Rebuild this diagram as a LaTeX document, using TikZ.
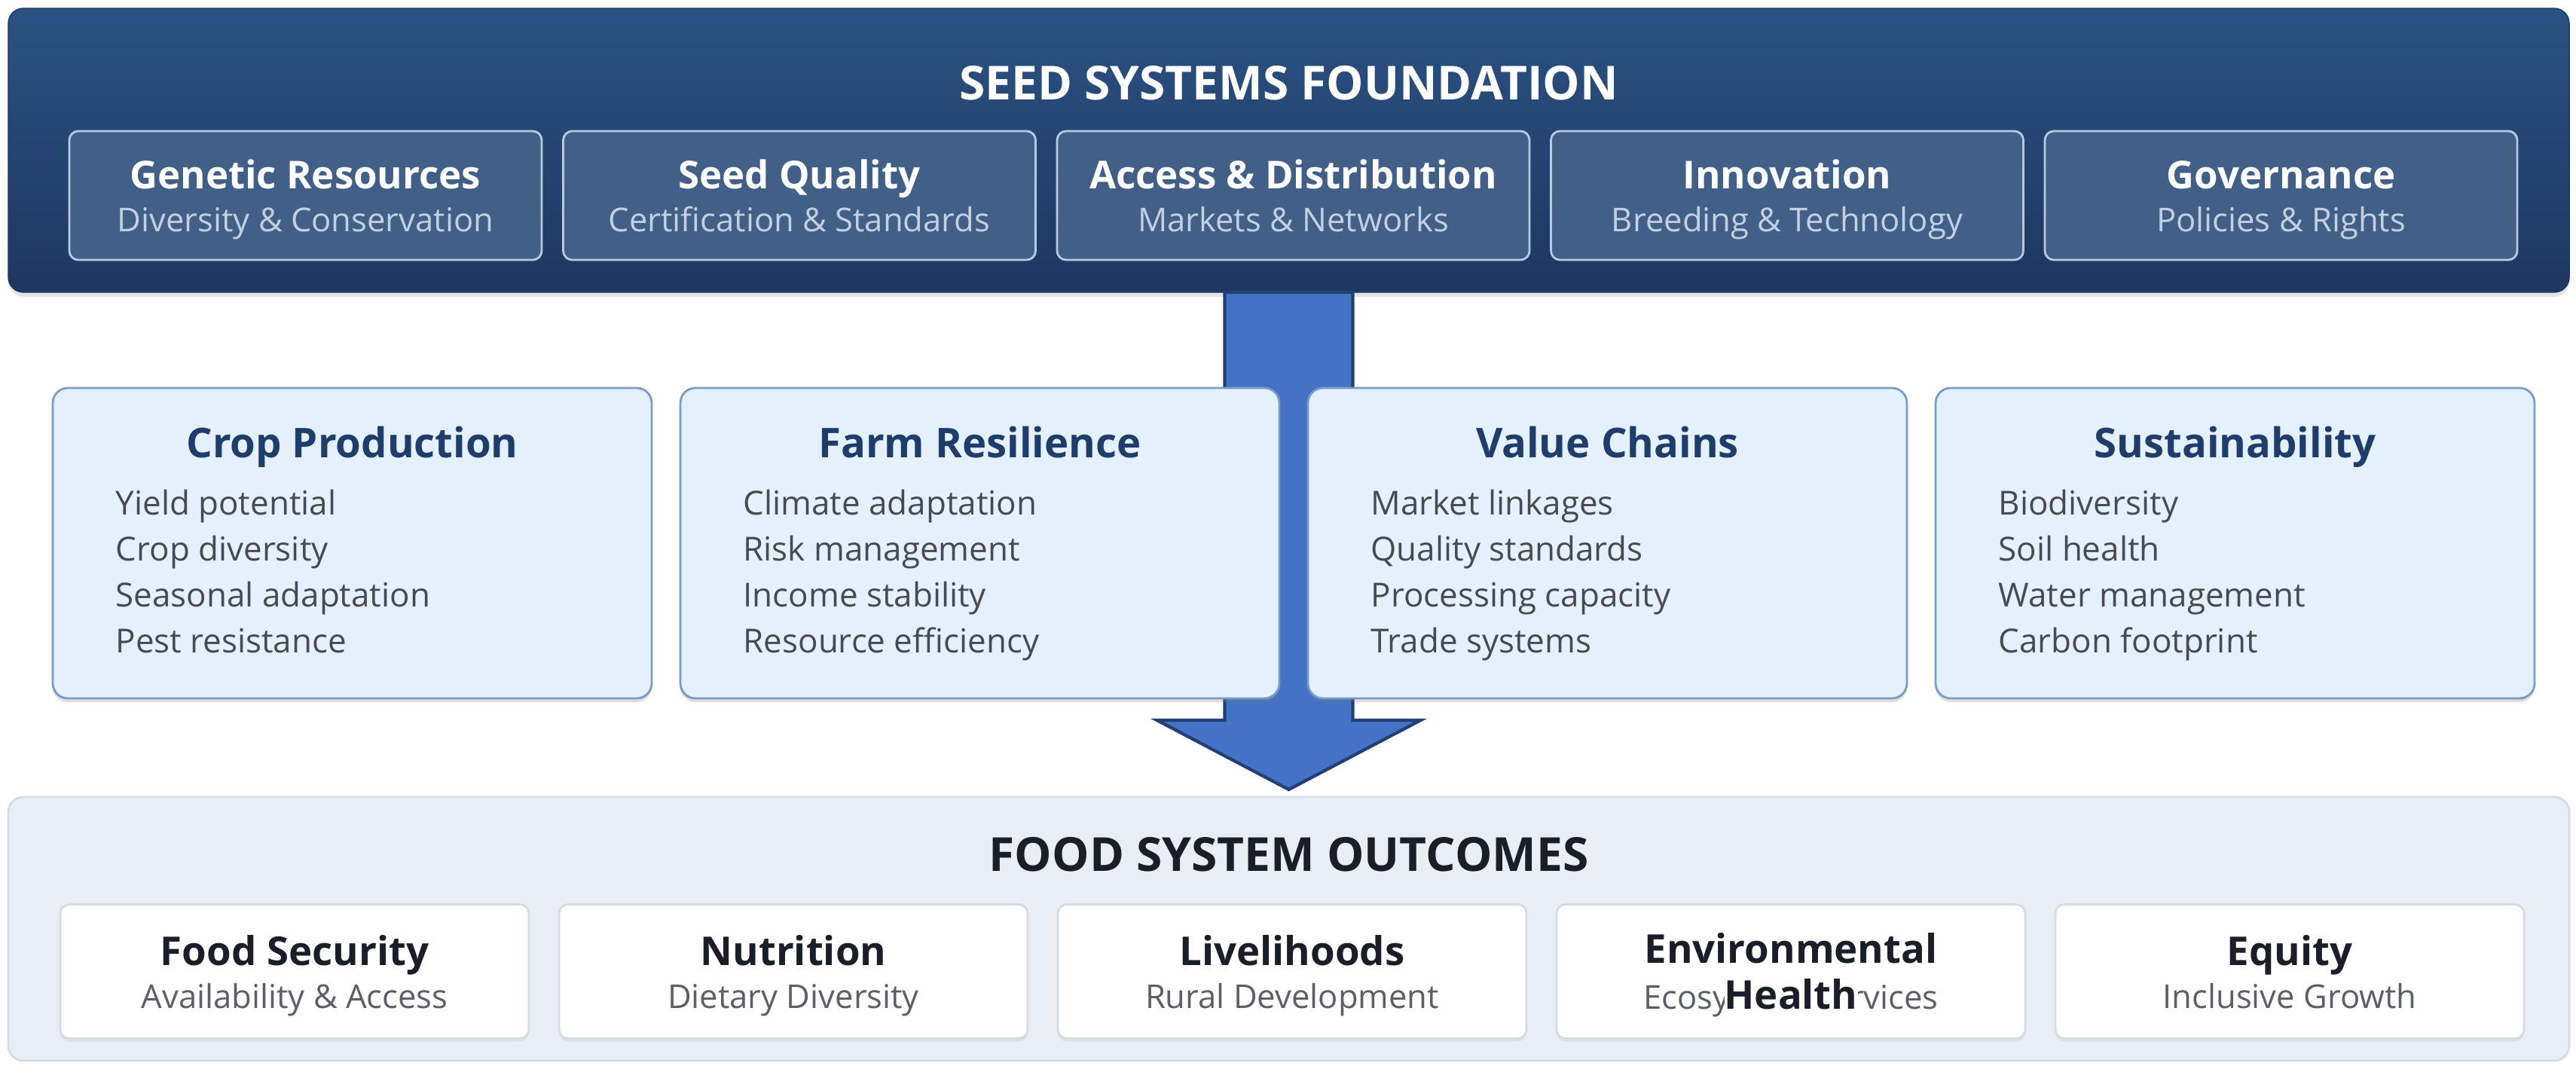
\documentclass[tikz,border=0pt]{standalone}
\usepackage{fontspec}
\setmainfont{Open Sans}
\usepackage{tikz}
\usetikzlibrary{positioning, shadows}
\definecolor{seedtopc}{HTML}{2B5283}
\definecolor{seedbotc}{HTML}{1D3760}
\definecolor{cardfillc}{HTML}{415F87}
\definecolor{cardlinec}{HTML}{B6CAE3}
\definecolor{cardsubc}{HTML}{C2D0E2}
\definecolor{midfillc}{HTML}{E4F0FC}
\definecolor{midlinec}{HTML}{7B9CC6}
\definecolor{midtitlec}{HTML}{1F3D6B}
\definecolor{miditemc}{HTML}{464B53}
\definecolor{arrfillc}{HTML}{4472C4}
\definecolor{arredgec}{HTML}{233F73}
\definecolor{outfillc}{HTML}{E9EEF4}
\definecolor{outedgec}{HTML}{D6DCE4}
\definecolor{outtitlec}{HTML}{1A1E28}
\definecolor{outsubc}{HTML}{5B5F67}
\newcommand{\cardsub}[1]{{\mdseries\fontsize{12.4}{16.2}\selectfont\color{cardsubc}\raisebox{0pt}[\height][0pt]{#1}}}
\newcommand{\outsub}[1]{{\mdseries\fontsize{12.4}{16.2}\selectfont\color{outsubc}\raisebox{0pt}[\height][0pt]{#1}}}
\tikzstyle{panel}=[rectangle, rounded corners=0.2cm, inner sep=0pt, outer sep=0pt]
\tikzstyle{seedpanel}=[panel, top color=seedtopc, bottom color=seedbotc, draw=seedbotc, minimum width=33.99cm, minimum height=3.77cm, drop shadow={shadow xshift=0cm, shadow yshift=-0.06cm, opacity=0.2}]
\tikzstyle{seedhead}=[anchor=base, text=white, font=\fontsize{17.7}{21}\selectfont\bfseries]
\tikzstyle{seedcard}=[panel, rounded corners=0.12cm, fill=cardfillc, draw=cardlinec, thick, minimum width=6.27cm, minimum height=1.71cm, text=white, align=center, font=\fontsize{14.5}{16.2}\selectfont\bfseries]
\tikzstyle{bigarrow}=[fill=arrfillc, draw=arredgec, line width=1.2pt, line join=miter]
\tikzstyle{midcard}=[panel, fill=midfillc, draw=midlinec, thick, minimum width=7.95cm, minimum height=4.12cm, drop shadow={shadow xshift=0cm, shadow yshift=-0.05cm, opacity=0.25}]
\tikzstyle{midhead}=[anchor=base, text=midtitlec, font=\fontsize{15.5}{18}\selectfont\bfseries]
\tikzstyle{miditems}=[anchor=north west, inner sep=0pt, align=left, text=miditemc, font=\fontsize{12.5}{17.4}\selectfont]
\tikzstyle{outpanel}=[panel, fill=outfillc, draw=outedgec, thick, minimum width=33.99cm, minimum height=3.50cm]
\tikzstyle{outhead}=[anchor=base, text=outtitlec, font=\fontsize{17.7}{21}\selectfont\bfseries]
\tikzstyle{outcard}=[panel, rounded corners=0.12cm, fill=white, draw=outedgec, thick, minimum width=6.22cm, minimum height=1.78cm, text=outtitlec, align=center, font=\fontsize{15}{16.2}\selectfont\bfseries, drop shadow={shadow xshift=0cm, shadow yshift=-0.04cm, opacity=0.12}]

\begin{document}
\begin{tikzpicture}
    \useasboundingbox[fill=white] (0,0) rectangle (34.19,-14.14);

    % Foundation:
    \node[seedpanel] (seed) at (17.105,-1.995) {};
    \node[seedhead] (seedtitle) at ([yshift=-1.21cm]seed.north) {SEED SYSTEMS FOUNDATION};
    \node[seedcard] (genetic) at (4.055,-2.595) {\strut Genetic Resources\\\cardsub{Diversity \& Conservation}};
    \node[seedcard] (quality) [right=0.285cm of genetic] {\strut Seed Quality\\\cardsub{Certification \& Standards}};
    \node[seedcard] (access) [right=0.285cm of quality] {\strut Access \& Distribution\\\cardsub{Markets \& Networks}};
    \node[seedcard] (innov) [right=0.285cm of access] {\strut Innovation\\\cardsub{Breeding \& Technology}};
    \node[seedcard] (gov) [right=0.285cm of innov] {\strut Governance\\\cardsub{Policies \& Rights}};

    % Outcomes:
    \node[outpanel] (outcomes) at (17.105,-12.33) {};
    \node[outhead] (outtitle) at ([yshift=-0.98cm]outcomes.north) {FOOD SYSTEM OUTCOMES};

    % Arrow:
    \draw[bigarrow] ([xshift=-0.85cm]seed.south) -- ++(0,-5.68) -- ++(-0.9,0) -- ([yshift=0.1cm]outcomes.north)
        -- ++(1.75,0.92) -- ++(-0.9,0) -- ++(0,5.68) -- cycle;

    % Impact areas:
    \node[midcard] (crop) at (4.675,-7.21) {};
    \node[midcard] (farm) [right=0.38cm of crop] {};
    \node[midcard] (value) [right=0.38cm of farm] {};
    \node[midcard] (sust) [right=0.38cm of value] {};
    \node[midhead] (croptitle) at ([yshift=-0.92cm]crop.north) {Crop Production};
    \node[midhead] (farmtitle) at ([yshift=-0.92cm]farm.north) {Farm Resilience};
    \node[midhead] (valuetitle) at ([yshift=-0.92cm]value.north) {Value Chains};
    \node[midhead] (susttitle) at ([yshift=-0.92cm]sust.north) {Sustainability};
    \node[miditems] (cropitems) at ([xshift=0.83cm, yshift=-1.25cm]crop.north west) {\strut Yield potential\\Crop diversity\\Seasonal adaptation\\Pest resistance};
    \node[miditems] (farmitems) at ([xshift=0.83cm, yshift=-1.25cm]farm.north west) {\strut Climate adaptation\\Risk management\\Income stability\\Resource efficiency};
    \node[miditems] (valueitems) at ([xshift=0.83cm, yshift=-1.25cm]value.north west) {\strut Market linkages\\Quality standards\\Processing capacity\\Trade systems};
    \node[miditems] (sustitems) at ([xshift=0.83cm, yshift=-1.25cm]sust.north west) {\strut Biodiversity\\Soil health\\Water management\\Carbon footprint};

    % Outcome cards:
    \node[outcard] (food) at (3.91,-12.895) {\strut Food Security\\\outsub{Availability \& Access}};
    \node[outcard] (nutri) [right=0.40cm of food] {\strut Nutrition\\\outsub{Dietary Diversity}};
    \node[outcard] (liveli) [right=0.40cm of nutri] {\strut Livelihoods\\\outsub{Rural Development}};
    \node[outcard] (envhealth) [right=0.40cm of liveli] {\strut Environmental\\\makebox[0pt]{\outsub{Ecosystem Services}}\makebox[0pt]{\fboxsep=0pt\colorbox{white}{Health}}};
    \node[outcard] (equity) [right=0.40cm of envhealth] {\strut Equity\\\outsub{Inclusive Growth}};
\end{tikzpicture}
\end{document}
